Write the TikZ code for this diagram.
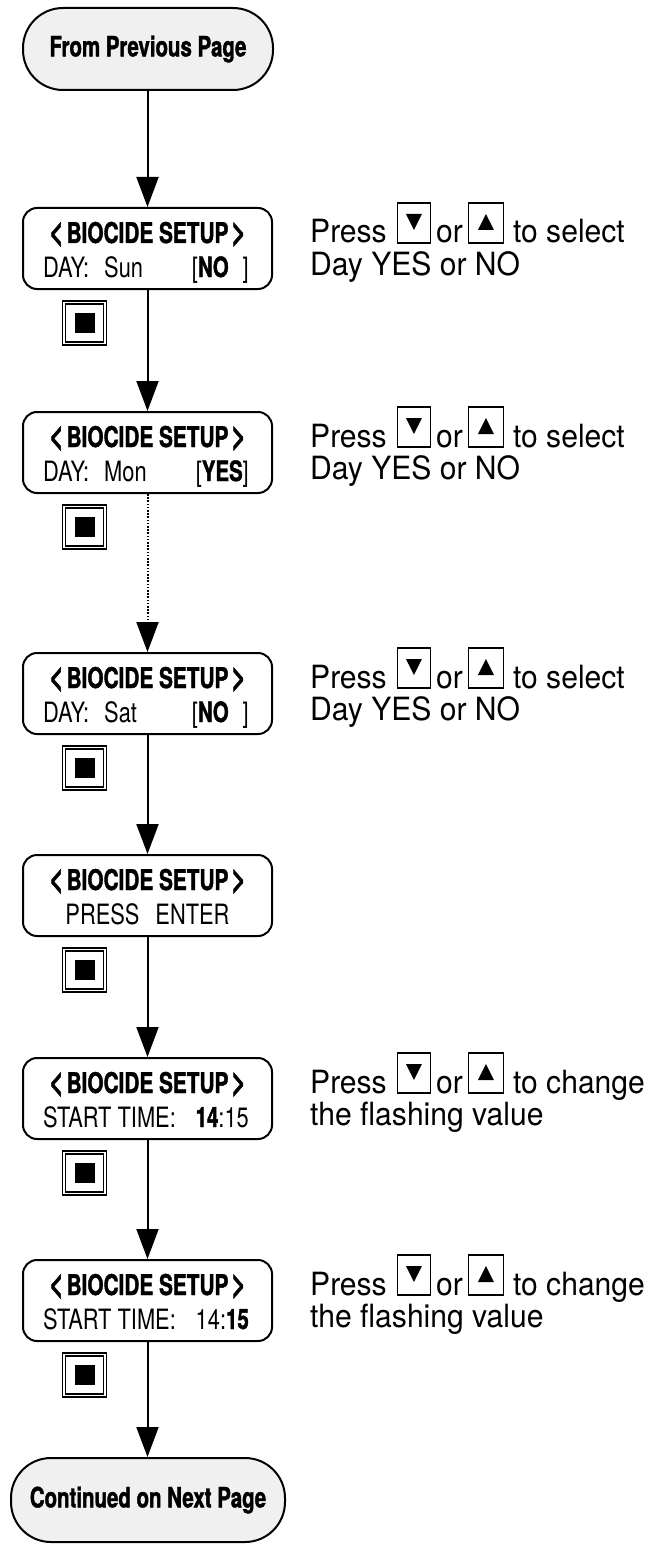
\documentclass[tikz,border=0pt]{standalone}
\usepackage{fontspec}
\setmainfont{TeX Gyre Heros}
\newfontfamily\hvc[FakeStretch=0.78]{TeX Gyre Heros}
\newfontfamily\hvt[FakeStretch=0.73,FakeBold=1.4]{TeX Gyre Heros}
\newfontfamily\hvs[FakeStretch=0.94]{TeX Gyre Heros}
\usetikzlibrary{arrows.meta}
\definecolor{termgray}{HTML}{F0F0F0}
\newcommand\hb[1]{{\hvt\bfseries #1}}
\newcommand\ang[1]{{\fontsize{34}{34}\selectfont #1}}
\newcommand\keydown{\tikz[x=1pt,y=1pt,baseline=0pt,line width=1.3pt]{\draw (0,0) rectangle (33,40); \fill (8.5,29) -- (24.5,29) -- (16.5,13) -- cycle;}}
\newcommand\keyup{\tikz[x=1pt,y=1pt,baseline=0pt,line width=1.3pt]{\draw (0,0) rectangle (35,40); \fill (9.5,13) -- (25.5,13) -- (17.5,29) -- cycle;}}
\newcommand\panel[4]{%
  \node[disp] (#1) at (147.5,#2+41.5) {};
  \node[ttl, anchor=base] (#1t) at (147.5,#2+36) {\ang{<}\hspace{3pt}BIOCIDE SETUP\hspace{3pt}\ang{>}};
  \node[ln, anchor=base west] (#1l) at (43,#2+70) {#3};
  \node[ln, anchor=base east] (#1r) at (249,#2+70) {#4};
}
\newcommand\sidenote[4]{%
  \node[sd, anchor=base west] (#1a) at (310,#2+36) {Press\hspace{10pt}\keydown\hspace{5pt}or\hspace{5pt}\keyup\hspace{9pt}#3};
  \node[sd, anchor=base west] (#1b) at (310,#2+68) {#4};
}
\newcommand\enterkey[2]{%
  \node[ekey] (#1) at (84.5,#2+116) {};
  \node[edot] (#1d) at (#1.center) {};
}
\begin{document}
\begin{tikzpicture}[x=1pt,y=-1pt,
  disp/.style={draw, line width=2pt, rounded corners=14pt, minimum width=249pt, minimum height=81pt, inner sep=0pt},
  term/.style={draw, line width=2pt, fill=termgray, rounded corners=40pt, inner sep=0pt, font={\hvt\bfseries\fontsize{28}{32}\selectfont}},
  arr/.style={line width=2pt, -{Triangle[length=30pt,width=22pt]}},
  ekey/.style={draw, line width=1.3pt, double, double distance=1.5pt, minimum size=41pt, inner sep=0pt},
  edot/.style={fill=black, minimum size=20pt, inner sep=0pt},
  ttl/.style={inner sep=0pt, font={\hvt\bfseries\fontsize{28.5}{32}\selectfont}},
  ln/.style={inner sep=0pt, font={\hvc\fontsize{28}{32}\selectfont}},
  sd/.style={inner sep=0pt, font={\hvs\fontsize{32}{36}\selectfont}}]
\useasboundingbox (0,0) rectangle (659,1546);

\node[term, minimum width=250pt, minimum height=82pt] (start) at (148,49) {From Previous Page};
\node[term, minimum width=274pt, minimum height=84pt] (end) at (148,1500) {Continued on Next Page};

\panel{b1}{207}{DAY:\hspace{15pt}Sun}{[\hb{NO}\hspace{14pt}]}
\panel{b2}{411}{DAY:\hspace{15pt}Mon}{[\hb{YES}]}
\panel{b3}{652}{DAY:\hspace{15pt}Sat}{[\hb{NO}\hspace{14pt}]}
\node[disp] (b4) at (147.5,854+41.5) {};
\node[ttl, anchor=base] (b4t) at (147.5,854+36) {\ang{<}\hspace{3pt}BIOCIDE SETUP\hspace{3pt}\ang{>}};
\node[ln, anchor=base] (b4l) at (147.5,854+70) {PRESS\hspace{16pt}ENTER};
\panel{b5}{1057}{START TIME:}{\hb{14}:15}
\panel{b6}{1259}{START TIME:}{14:\hb{15}}

\enterkey{k1}{207}
\enterkey{k2}{411}
\enterkey{k3}{652}
\enterkey{k4}{854}
\enterkey{k5}{1057}
\enterkey{k6}{1259}

\sidenote{s1}{207}{to select}{Day YES or NO}
\sidenote{s2}{411}{to select}{Day YES or NO}
\sidenote{s3}{652}{to select}{Day YES or NO}
\sidenote{s5}{1057}{to change}{the flashing value}
\sidenote{s6}{1259}{to change}{the flashing value}

\draw[arr] (b1.north |- start.south) -- (b1.north);
\draw[arr] (b1.south) -- (b2.north);
\draw[arr, dash pattern=on 1.6pt off 1.6pt] (b2.south) -- (b3.north);
\draw[arr] (b3.south) -- (b4.north);
\draw[arr] (b4.south) -- (b5.north);
\draw[arr] (b5.south) -- (b6.north);
\draw[arr] (b6.south) -- (b6.south |- end.north);
\end{tikzpicture}
\end{document}
